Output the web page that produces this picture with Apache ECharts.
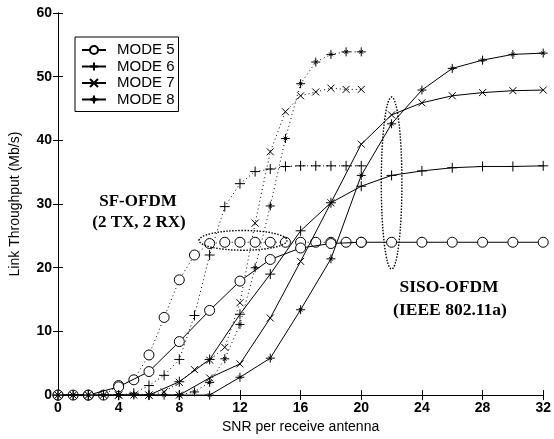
<!DOCTYPE html>
<html>
<head>
<meta charset="utf-8">
<script src="https://cdn.jsdelivr.net/npm/echarts@6/dist/echarts.min.js"></script>
<style>
html,body{margin:0;padding:0;background:#fff;}
#chart{width:554px;height:439px;}
</style>
</head>
<body>
<div id="chart"></div>
<script>
// ---- data ----
const modeNames = ['MODE 5', 'MODE 6', 'MODE 7', 'MODE 8'];
const xTicks = [0, 4, 8, 12, 16, 20, 24, 28, 32];
const yTicks = [0, 10, 20, 30, 40, 50, 60];

// SISO-OFDM (IEEE 802.11a), solid lines, every 2 dB
const snrSiso = [0, 2, 4, 6, 8, 10, 12, 14, 16, 18, 20, 22, 24, 26, 28, 30, 32];
const sisoMode5 = [0, 0, 1.3, 3.7, 8.4, 13.3, 17.9, 21.3, 23.1, 23.8, 24, 24, 24, 24, 24, 24, 24];
const sisoMode6 = [0, 0, 0, 0, 2.1, 5.6, 12.7, 19.0, 25.8, 30.2, 32.8, 34.5, 35.2, 35.7, 35.9, 35.9, 36.0];
const sisoMode7 = [0, 0, 0, 0, 0, 2.7, 4.9, 12.1, 21.0, 30.2, 39.4, 44.0, 45.9, 47.0, 47.5, 47.8, 47.9];
const sisoMode8 = [0, 0, 0, 0, 0, 0, 2.8, 5.8, 13.4, 21.4, 34.5, 42.6, 47.9, 51.3, 52.6, 53.5, 53.7];

// SF-OFDM (2 TX, 2 RX), dotted lines, every 1 dB
const snrSf = [0, 1, 2, 3, 4, 5, 6, 7, 8, 9, 10, 11, 12, 13, 14, 15, 16, 17, 18, 19, 20];
const sfMode5 = [0, 0, 0, 0, 1.5, 2.4, 6.3, 12.2, 18.1, 22.0, 23.8, 24, 24, 24, 24, 24, 24, 24, 24, 24, 24];
const sfMode6 = [0, 0, 0, 0, 0, 0.3, 1.5, 3.1, 5.6, 12.5, 22.0, 29.6, 33.2, 35.1, 35.5, 35.9, 36, 36, 36, 36, 36];
const sfMode7 = [0, 0, 0, 0, 0, 0, 0, 0.5, 2.0, 4.0, 5.5, 7.5, 14.5, 27.0, 38.2, 44.5, 47.0, 47.6, 48.2, 48.0, 48.0];
const sfMode8 = [0, 0, 0, 0, 0, 0, 0, 0, 0, 0.5, 2.0, 5.7, 11.1, 20.0, 29.7, 40.3, 48.9, 52.3, 53.5, 53.9, 53.9];

// ---- styling ----
const circlePath = 'path://M10,5A5,5,0,1,1,0,5A5,5,0,1,1,10,5Z';
const plusPath = 'path://M0,5L10,5M5,0L5,10';
const crossPath = 'path://M0,0L10,10M10,0L0,10';
const starPath = 'path://M0,5L10,5M5,0L5,10M3,3L7,7M7,3L3,7';
const symbols = [circlePath, plusPath, crossPath, starPath];
const symSizes = [10, 10, 7, 9];
const symFill = ['#fff', '#000', '#000', '#000'];
const font = '"Liberation Sans", Arial, sans-serif';
const serif = '"Liberation Serif", "Times New Roman", serif';

function pairs(xs, ys) { return xs.map((x, i) => [x, ys[i]]); }

const sisoData = [sisoMode5, sisoMode6, sisoMode7, sisoMode8];
const sfData = [sfMode5, sfMode6, sfMode7, sfMode8];

const series = [];
sfData.forEach((ys, k) => {
  series.push({
    name: 'SF ' + modeNames[k],
    type: 'line',
    data: pairs(snrSf, ys),
    symbol: symbols[k],
    symbolSize: symSizes[k],
    showAllSymbol: true,
    color: '#000',
    lineStyle: { color: '#000', width: 1, type: [1, 3] },
    itemStyle: { color: symFill[k], borderColor: '#000', borderWidth: 1 },
    emphasis: { disabled: true },
    animation: false,
    z: 2
  });
});
sisoData.forEach((ys, k) => {
  series.push({
    name: modeNames[k],
    type: 'line',
    data: pairs(snrSiso, ys),
    symbol: symbols[k],
    symbolSize: symSizes[k],
    showAllSymbol: true,
    color: '#000',
    lineStyle: { color: '#000', width: 1 },
    itemStyle: { color: symFill[k], borderColor: '#000', borderWidth: 1 },
    emphasis: { disabled: true },
    animation: false,
    z: 3
  });
});

// annotation ellipses (dotted), in data units: [cx, cy, rx, ry]
series.push({
  type: 'custom',
  name: 'ellipses',
  silent: true,
  animation: false,
  data: [[12.2, 24.3, 2.9, 1.55], [22.0, 33.3, 0.68, 13.5]],
  renderItem: function (params, api) {
    const c = api.coord([api.value(0), api.value(1)]);
    const s = api.size([api.value(2), api.value(3)]);
    return {
      type: 'ellipse',
      shape: { cx: c[0], cy: c[1], rx: s[0], ry: s[1] },
      style: { fill: 'none', stroke: '#000', lineWidth: 1.4, lineDash: [1.5, 1.5] }
    };
  },
  z: 4
});

const axisCommon = {
  axisLine: { show: true, lineStyle: { color: '#000', width: 1 } },
  axisTick: { show: true, inside: true, length: 5, lineStyle: { color: '#000' } },
  splitLine: { show: false }
};

const chart = echarts.init(document.getElementById('chart'), null, { renderer: 'canvas' });
chart.setOption({
  backgroundColor: '#fff',
  animation: false,
  grid: { left: 53, right: 9, top: 13, bottom: 39, containLabel: false },
  legend: {
    data: modeNames,
    orient: 'vertical',
    left: 75,
    top: 37,
    backgroundColor: '#fff',
    borderColor: '#000',
    borderWidth: 1,
    borderRadius: 0,
    padding: [5, 4, 4, 6],
    itemWidth: 24,
    itemHeight: 10,
    itemGap: 0.5,
    textStyle: { fontFamily: font, fontSize: 15, lineHeight: 16, color: '#000', padding: [0, 0, 0, 6] },
    selectedMode: false
  },
  xAxis: [
    Object.assign({}, axisCommon, {
      type: 'value', min: xTicks[0], max: xTicks[xTicks.length - 1], interval: 4,
      name: 'SNR per receive antenna', nameLocation: 'middle', nameGap: 22,
      nameTextStyle: { fontFamily: font, fontSize: 14, color: '#000' },
      axisLabel: { fontFamily: font, fontSize: 14, fontWeight: 'bold', color: '#000', margin: 6 }
    }),
    Object.assign({}, axisCommon, {
      type: 'value', min: xTicks[0], max: xTicks[xTicks.length - 1], interval: 4,
      position: 'top', axisLabel: { show: false }
    })
  ],
  yAxis: [
    Object.assign({}, axisCommon, {
      type: 'value', min: yTicks[0], max: yTicks[yTicks.length - 1], interval: 10,
      name: 'Link Throughput (Mb/s)', nameLocation: 'middle', nameGap: 36,
      nameTextStyle: { fontFamily: font, fontSize: 14, color: '#000' },
      axisLabel: { fontFamily: font, fontSize: 14, fontWeight: 'bold', color: '#000', margin: 6 }
    }),
    Object.assign({}, axisCommon, {
      type: 'value', min: yTicks[0], max: yTicks[yTicks.length - 1], interval: 10,
      position: 'right', axisLabel: { show: false }
    })
  ],
  graphic: [
    { type: 'text', x: 138, y: 202, style: { text: 'SF-OFDM', font: 'bold 17px ' + serif, fill: '#000', align: 'center', verticalAlign: 'middle' } },
    { type: 'text', x: 139, y: 223, style: { text: '(2 TX, 2 RX)', font: 'bold 17px ' + serif, fill: '#000', align: 'center', verticalAlign: 'middle' } },
    { type: 'text', x: 449, y: 287, style: { text: 'SISO-OFDM', font: 'bold 17.5px ' + serif, fill: '#000', align: 'center', verticalAlign: 'middle' } },
    { type: 'text', x: 450, y: 310, style: { text: '(IEEE 802.11a)', font: 'bold 17.5px ' + serif, fill: '#000', align: 'center', verticalAlign: 'middle' } }
  ],
  series: series
});
</script>
</body>
</html>
